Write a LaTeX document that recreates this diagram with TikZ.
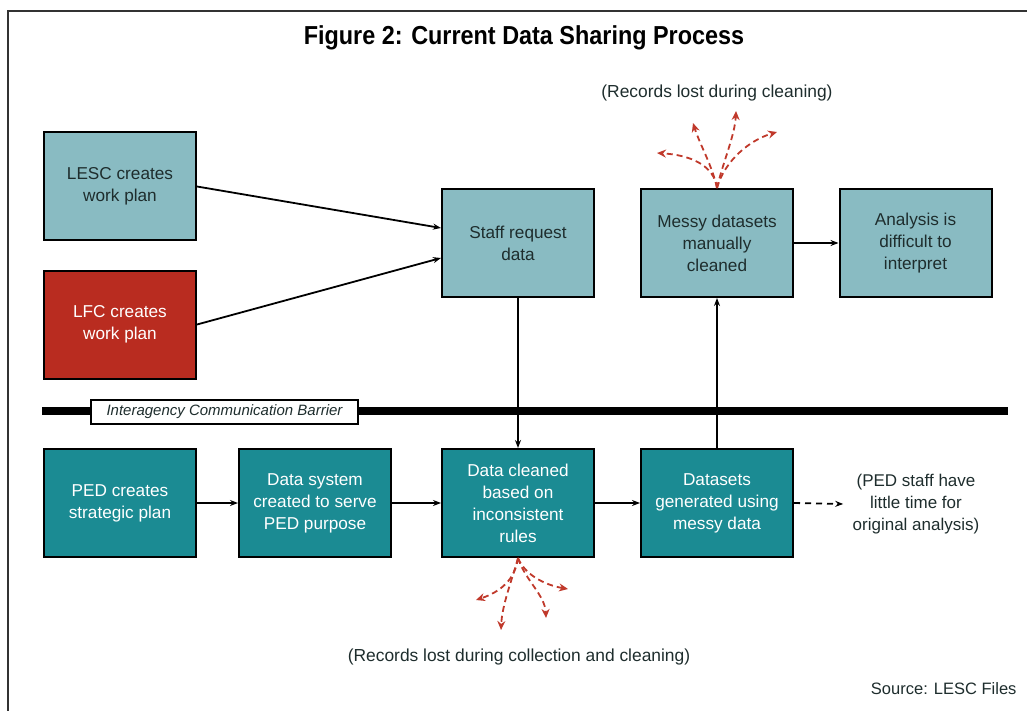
\documentclass[tikz,border=0pt]{standalone}
\usepackage{fontspec}
\setmainfont{Liberation Sans}
\usetikzlibrary{arrows.meta}
\definecolor{lightteal}{HTML}{89BBC2}
\definecolor{darkteal}{HTML}{1B8B93}
\definecolor{boxred}{HTML}{B92C20}
\definecolor{losscol}{HTML}{C0392B}
\definecolor{boxtext}{HTML}{1E2D2D}
\definecolor{framecol}{HTML}{333333}
\begin{document}
\begin{tikzpicture}[x=1pt,y=-1pt,
  proc/.style={rectangle, draw=black, line width=2pt, minimum width=152pt, minimum height=108pt,
    align=center, font=\fontsize{17.2}{22}\selectfont, inner sep=0pt},
  light/.style={proc, fill=lightteal, text=boxtext},
  dark/.style={proc, fill=darkteal, text=white},
  redbox/.style={proc, fill=boxred, text=white},
  conn/.style={line width=1.8pt, -{Stealth[length=8pt,width=6pt]}},
  loss/.style={draw=losscol, line width=1.8pt, dash pattern=on 6pt off 4pt, -{Stealth[length=9pt,width=8pt]}, losscol},
  note/.style={font=\fontsize{17.4}{22}\selectfont, align=center, text=boxtext}
]
\useasboundingbox (0,0) rectangle (1027,711);
% frame
\coordinate (fA) at (8,711);
\coordinate (fB) at (8,11);
\coordinate (fC) at (1027,11);
\draw[framecol, line width=1.6pt] (fA) -- (fB) -- (fC);

% title
\node (title) at (524,38) {\scalebox{0.9}[1]{\fontsize{26}{26}\selectfont\bfseries Figure 2: Current Data Sharing Process}};

% boxes
\node[light] (lesc) at (120,186.5) {LESC creates\\work plan};
\node[redbox] (lfc) at (120,324.5) {LFC creates\\work plan};
\node[light] (staff) at (518,243) {Staff request\\data};
\node[light] (messy) at (717,243) {Messy datasets\\manually\\cleaned};
\node[light] (anal) at (915.5,243) {Analysis is\\difficult to\\interpret};
\node[dark] (ped) at (120,503) {PED creates\\strategic plan};
\node[dark] (dsys) at (315,503) {Data system\\created to serve\\PED purpose};
\node[dark] (clean) at (518,503) {Data cleaned\\based on\\inconsistent\\rules};
\node[dark] (dsets) at (717,503) {Datasets\\generated using\\messy data};

% barrier
\coordinate (bL) at (42,411);
\coordinate (bR) at (1008,411);
\draw[line width=8pt] (bL) -- (bR);
\node[draw=black, fill=white, line width=1.2pt, minimum width=267pt, minimum height=24pt, inner sep=0pt,
  font=\fontsize{15}{15}\selectfont\itshape, text=boxtext] (barrier) at (224.5,412) {Interagency Communication Barrier};

% connectors
\draw[conn] (lesc.east) -- ([yshift=15pt]staff.west);
\draw[conn] (lfc.east) -- ([yshift=-15pt]staff.west);
\draw[conn] (staff.south) -- (clean.north);
\draw[conn] (dsets.north) -- (messy.south);
\draw[conn] (messy.east) -- (anal.west);
\draw[conn] (ped.east) -- (dsys.west);
\draw[conn] (dsys.east) -- (clean.west);
\draw[conn] (clean.east) -- (dsets.west);

% PED note
\node[note, font=\fontsize{17}{22}\selectfont] (pednote) at (916,504) {(PED staff have\\little time for\\original analysis)};
\draw[line width=1.8pt, dash pattern=on 6pt off 5pt, -{Stealth[length=8pt,width=6pt]}] (dsets.east) -- ([xshift=-6pt]pednote.west);

% loss top
\node[note] (losstop) at (717,93) {(Records lost during cleaning)};
\coordinate (t1) at (657,153);
\coordinate (t2) at (693,123);
\coordinate (t3) at (736,111);
\coordinate (t4) at (777,132);
\draw[loss] (messy.north) .. controls (714,165) and (690,155) .. (t1);
\draw[loss] (messy.north) .. controls (712,165) and (700,145) .. (t2);
\draw[loss] (messy.north) .. controls (722,165) and (735,135) .. (t3);
\draw[loss] (messy.north) .. controls (725,160) and (750,140) .. (t4);

% loss bottom
\node[note] (lossbot) at (519,657) {(Records lost during collection and cleaning)};
\coordinate (b1) at (476,600);
\coordinate (b2) at (501,630);
\coordinate (b3) at (546,618);
\coordinate (b4) at (568,589);
\draw[loss] (clean.south) .. controls (515,580) and (500,592) .. (b1);
\draw[loss] (clean.south) .. controls (512,580) and (502,605) .. (b2);
\draw[loss] (clean.south) .. controls (525,580) and (545,595) .. (b3);
\draw[loss] (clean.south) .. controls (525,575) and (545,585) .. (b4);

% source
\node[note, font=\fontsize{16.5}{20}\selectfont, anchor=east] (source) at (1020,689) {Source: LESC Files};
\end{tikzpicture}
\end{document}
